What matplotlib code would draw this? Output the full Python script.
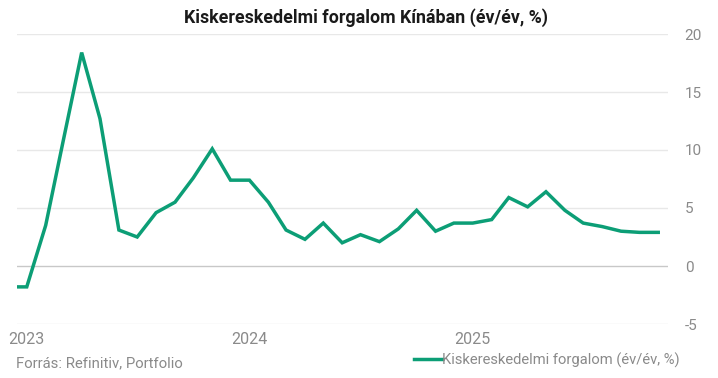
import pandas as pd
import numpy as np
import matplotlib
matplotlib.use("Agg")
import matplotlib.pyplot as plt

plt.rcParams['font.family'] = ['Roboto', 'DejaVu Sans']
plt.rcParams['axes.unicode_minus'] = False

# havi adatok, 2022 dec - 2025 nov
months = pd.date_range("2022-12-01", "2025-11-01", freq="MS")
retail_yoy = [
    -1.8,
    -1.8, 3.5, 10.6, 18.4, 12.7, 3.1, 2.5, 4.6, 5.5, 7.6, 10.1, 7.4,
    7.4, 5.5, 3.1, 2.3, 3.7, 2.0, 2.7, 2.1, 3.2, 4.8, 3.0, 3.7,
    3.7, 4.0, 5.9, 5.1, 6.4, 4.8, 3.7, 3.4, 3.0, 2.9, 2.9,
]
series_label = "Kiskereskedelmi forgalom (év/év, %)"
title = "Kiskereskedelmi forgalom Kínában (év/év, %)"
source = "Forrás: Refinitiv, Portfolio"
yticks = [-5, 0, 5, 10, 15, 20]
year_ticks = ["2023", "2024", "2025"]

line_color = "#0c9e76"
grey = "#8a8a8a"

fig = plt.figure(figsize=(7.18, 3.78), dpi=100)
ax = fig.add_axes([17 / 718, 1 - 324 / 378, (668 - 17) / 718, (324 - 34) / 378])

ax.plot(months, retail_yoy, color=line_color, lw=2.5, solid_joinstyle='miter',
        label=series_label)

ax.set_ylim(-5, 20)
ax.set_xlim(pd.Timestamp("2022-12-16"), pd.Timestamp("2025-11-17"))
ax.set_yticks(yticks)
ax.yaxis.tick_right()
ax.tick_params(axis='y', length=0, pad=12, labelsize=11, labelcolor=grey)
ax.set_xticks([pd.Timestamp(f"{y}-01-01") for y in year_ticks])
ax.set_xticklabels(year_ticks)
ax.tick_params(axis='x', length=0, pad=6, labelsize=11.5, labelcolor=grey)

for y in yticks:
    ax.axhline(y, color="#c8c8c8" if y == 0 else "#e8e8e8", lw=1.0, zorder=0)
for s in ax.spines.values():
    s.set_visible(False)

fig.text(366 / 718, 1 - 18 / 378, title, ha='center', va='center',
         fontsize=12.8, fontweight='bold', color="#1a1a1a")
fig.text(16 / 718, 1 - 363 / 378, source, ha='left', va='center',
         fontsize=10.7, color=grey)

leg = fig.legend(loc='center right', bbox_to_anchor=(680 / 718, 1 - 360 / 378),
                 frameon=False, fontsize=10.6, handlelength=1.9, handletextpad=0.05,
                 borderaxespad=0, borderpad=0)
for t in leg.get_texts():
    t.set_color(grey)

fig.savefig("out.png", dpi=100)
